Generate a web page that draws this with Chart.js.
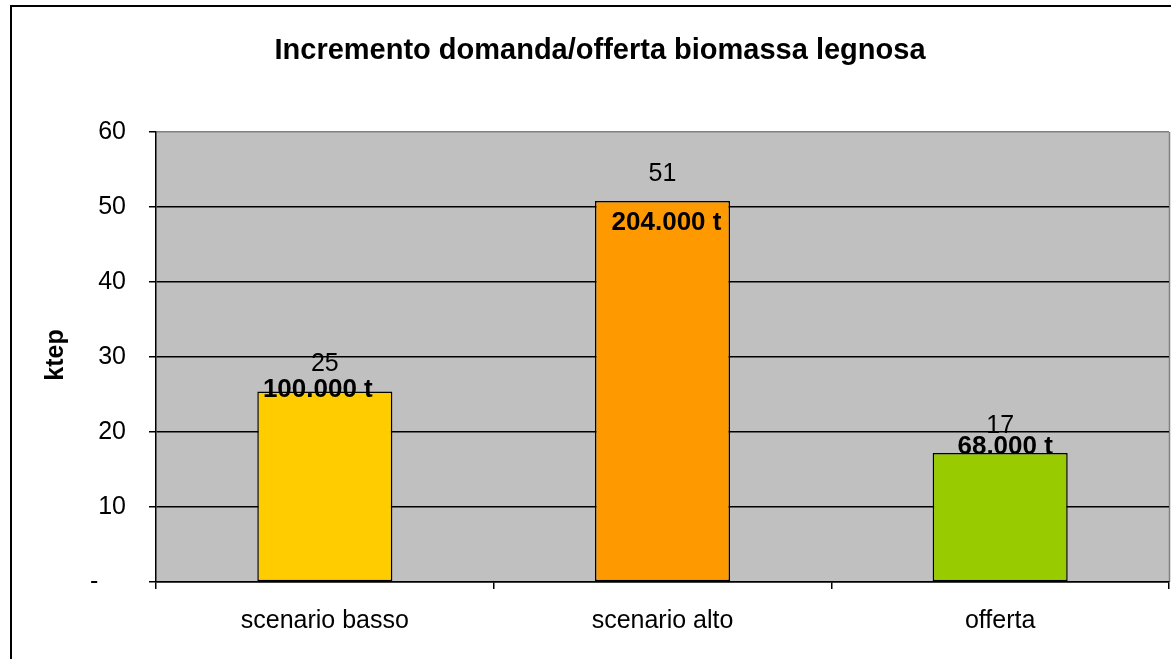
<!DOCTYPE html>
<html>
<head>
<meta charset="utf-8">
<script src="https://cdn.jsdelivr.net/npm/chart.js@4.4.1/dist/chart.umd.min.js"></script>
<style>
html,body{margin:0;padding:0;background:#fff;}
canvas{display:block;}
</style>
</head>
<body>
<canvas id="c" width="1171" height="659"></canvas>
<script>
// ---- data ----
const chartTitle = 'Incremento domanda/offerta biomassa legnosa';
const yAxisTitle = 'ktep';
const categories = ['scenario basso', 'scenario alto', 'offerta'];
const ktepValues = [25.4, 50.8, 17.2];
const valueLabels = ['25', '51', '17'];
const tonneLabels = ['100.000 t', '204.000 t', '68.000 t'];
const yTickValues = [0, 10, 20, 30, 40, 50, 60];
const yTickLabels = ['-    ', '10', '20', '30', '40', '50', '60'];

// ---- style ----
const barColors = ['#FFCC00', '#FF9900', '#99CC00'];
const tonneLabelOffsets = [[-7, -2], [4, 22], [5, -6]]; // dx, dy relative to bar top
const FONT = '"Liberation Sans", Arial, sans-serif';

const decorPlugin = {
  id: 'decor',
  beforeDraw(chart) {
    const ctx = chart.ctx;
    const a = chart.chartArea;
    ctx.save();
    ctx.fillStyle = '#fff';
    ctx.fillRect(0, 0, chart.width, chart.height);
    // outer frame
    ctx.strokeStyle = '#000';
    ctx.lineWidth = 2;
    ctx.strokeRect(11, 6, chart.width + 20, chart.height + 20);
    // plot background
    ctx.fillStyle = '#C0C0C0';
    ctx.fillRect(a.left, a.top, a.right - a.left, a.bottom - a.top);
    // right gray border
    ctx.strokeStyle = '#808080';
    ctx.lineWidth = 1.5;
    ctx.beginPath();
    ctx.moveTo(a.right + 0.5, a.top);
    ctx.lineTo(a.right + 0.5, a.bottom);
    ctx.stroke();
    // title
    ctx.fillStyle = '#000';
    ctx.font = 'bold 29px ' + FONT;
    ctx.textAlign = 'center';
    ctx.textBaseline = 'alphabetic';
    ctx.fillText(chartTitle, 600, 59);
    // y axis title
    ctx.translate(63, 355);
    ctx.rotate(-Math.PI / 2);
    ctx.font = 'bold 25px ' + FONT;
    ctx.fillText(yAxisTitle, 0, 0);
    ctx.restore();
  },
  afterDatasetsDraw(chart) {
    const ctx = chart.ctx;
    const meta = chart.getDatasetMeta(0);
    ctx.save();
    ctx.fillStyle = '#000';
    ctx.textAlign = 'center';
    ctx.textBaseline = 'middle';
    meta.data.forEach((bar, i) => {
      ctx.font = '25px ' + FONT;
      ctx.fillText(valueLabels[i], bar.x, bar.y - 27);
      ctx.font = 'bold 26px ' + FONT;
      ctx.fillText(tonneLabels[i], bar.x + tonneLabelOffsets[i][0], bar.y + tonneLabelOffsets[i][1]);
    });
    ctx.restore();
  }
};

new Chart(document.getElementById('c'), {
  type: 'bar',
  data: {
    labels: categories,
    datasets: [{
      data: ktepValues,
      backgroundColor: barColors,
      borderColor: '#000',
      borderWidth: 1.5,
      borderSkipped: false,
      categoryPercentage: 1.0,
      barPercentage: 0.4
    }]
  },
  options: {
    responsive: false,
    animation: false,
    devicePixelRatio: 1,
    layout: { padding: { left: 0, top: 132, right: 2, bottom: 0 } },
    plugins: { legend: { display: false }, tooltip: { enabled: false }, title: { display: false } },
    scales: {
      x: {
        offset: true,
        grid: { display: true, drawOnChartArea: false, drawTicks: true, tickLength: 7, tickColor: '#000', lineWidth: 1.5, offset: true },
        border: { display: true, color: '#000', width: 1.5 },
        ticks: { color: '#000', font: { family: FONT, size: 25 }, padding: 17, maxRotation: 0 },
        afterFit(s) { s.height = 77; }
      },
      y: {
        min: 0, max: 60,
        afterBuildTicks(s) { s.ticks = yTickValues.map(v => ({ value: v })); },
        grid: {
          color: ctx => (ctx.tick && ctx.tick.value === 60) ? '#808080' : '#000',
          lineWidth: 1.5,
          tickLength: 7,
          tickColor: '#000'
        },
        border: { display: true, color: '#000', width: 1.5 },
        ticks: {
          color: '#000',
          font: { family: FONT, size: 25 },
          padding: 23,
          callback: (v) => yTickLabels[yTickValues.indexOf(v)]
        },
        afterFit(s) { s.width = 156; }
      }
    }
  },
  plugins: [decorPlugin]
});
</script>
</body>
</html>
